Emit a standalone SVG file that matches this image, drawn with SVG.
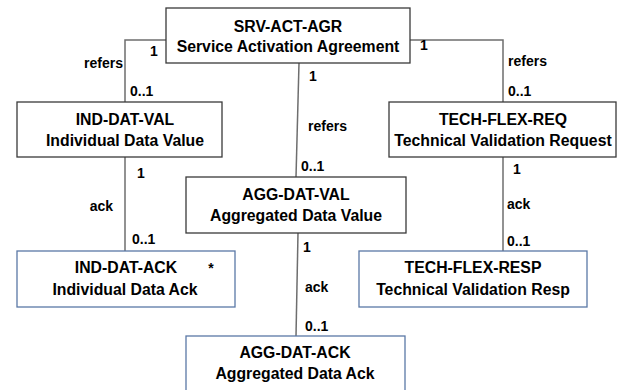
<svg xmlns="http://www.w3.org/2000/svg" width="618" height="390" viewBox="0 0 618 390">
<style>
.box{fill:#fff;stroke:#3a3a3a;stroke-width:1.3}
.ack{fill:#fff;stroke:#5a78a6;stroke-width:1.3}
.t{font-family:"Liberation Sans",Arial,sans-serif;font-weight:bold;font-size:15.8px;fill:#000;text-anchor:middle}
.l{font-family:"Liberation Sans",Arial,sans-serif;font-weight:bold;font-size:14px;fill:#000}
.c{fill:none;stroke:#6e6e6e;stroke-width:1.5}
</style>
<rect width="618" height="390" fill="#fff"/>
<g id="connectors">
<polyline class="c" points="166,40 125,40 125,102"/>
<polyline class="c" points="410,40 503,40 503,102"/>
<line class="c" x1="299" y1="63" x2="296" y2="177"/>
<line class="c" x1="125" y1="157" x2="125" y2="251"/>
<line class="c" x1="503" y1="157" x2="503" y2="251"/>
<line class="c" x1="298" y1="233" x2="296" y2="336"/>
<text class="l" x="150" y="56">1</text>
<text class="l" x="123" y="68" text-anchor="end">refers</text>
<text class="l" x="130" y="96">0..1</text>
<text class="l" x="420" y="50">1</text>
<text class="l" x="508" y="66">refers</text>
<text class="l" x="508" y="96">0..1</text>
<text class="l" x="309" y="81">1</text>
<text class="l" x="308" y="131">refers</text>
<text class="l" x="301" y="171">0..1</text>
<text class="l" x="137" y="178">1</text>
<text class="l" x="113" y="211" text-anchor="end">ack</text>
<text class="l" x="132" y="244">0..1</text>
<text class="l" x="513" y="174">1</text>
<text class="l" x="507" y="209">ack</text>
<text class="l" x="507" y="246">0..1</text>
<text class="l" x="303" y="252">1</text>
<text class="l" x="305" y="292">ack</text>
<text class="l" x="305" y="331">0..1</text>
</g>
<g id="SRV-ACT-AGR">
<rect class="box" x="166" y="8" width="244" height="55"/>
<text class="t" x="288" y="32">SRV-ACT-AGR</text>
<text class="t" x="288" y="52">Service Activation Agreement</text>
</g>
<g id="IND-DAT-VAL">
<rect class="box" x="17" y="102" width="205" height="55"/>
<text class="t" x="125" y="125">IND-DAT-VAL</text>
<text class="t" x="125" y="146">Individual Data Value</text>
</g>
<g id="TECH-FLEX-REQ">
<rect class="box" x="389" y="102" width="227" height="55"/>
<text class="t" x="503" y="125">TECH-FLEX-REQ</text>
<text class="t" x="503" y="146">Technical Validation Request</text>
</g>
<g id="AGG-DAT-VAL">
<rect class="box" x="186" y="177" width="220" height="56"/>
<text class="t" x="296" y="200">AGG-DAT-VAL</text>
<text class="t" x="296" y="221">Aggregated Data Value</text>
</g>
<g id="IND-DAT-ACK">
<rect class="ack" x="17" y="251" width="218" height="56"/>
<text class="t" x="126" y="273">IND-DAT-ACK</text>
<text class="t" x="125" y="295">Individual Data Ack</text>
<text class="l" x="211" y="273" text-anchor="middle">*</text>
</g>
<g id="TECH-FLEX-RESP">
<rect class="ack" x="359" y="251" width="228" height="56"/>
<text class="t" x="473" y="273">TECH-FLEX-RESP</text>
<text class="t" x="473" y="295">Technical Validation Resp</text>
</g>
<g id="AGG-DAT-ACK">
<rect class="ack" x="186" y="336" width="219" height="62"/>
<text class="t" x="295" y="358">AGG-DAT-ACK</text>
<text class="t" x="295" y="379">Aggregated Data Ack</text>
</g>
</svg>
